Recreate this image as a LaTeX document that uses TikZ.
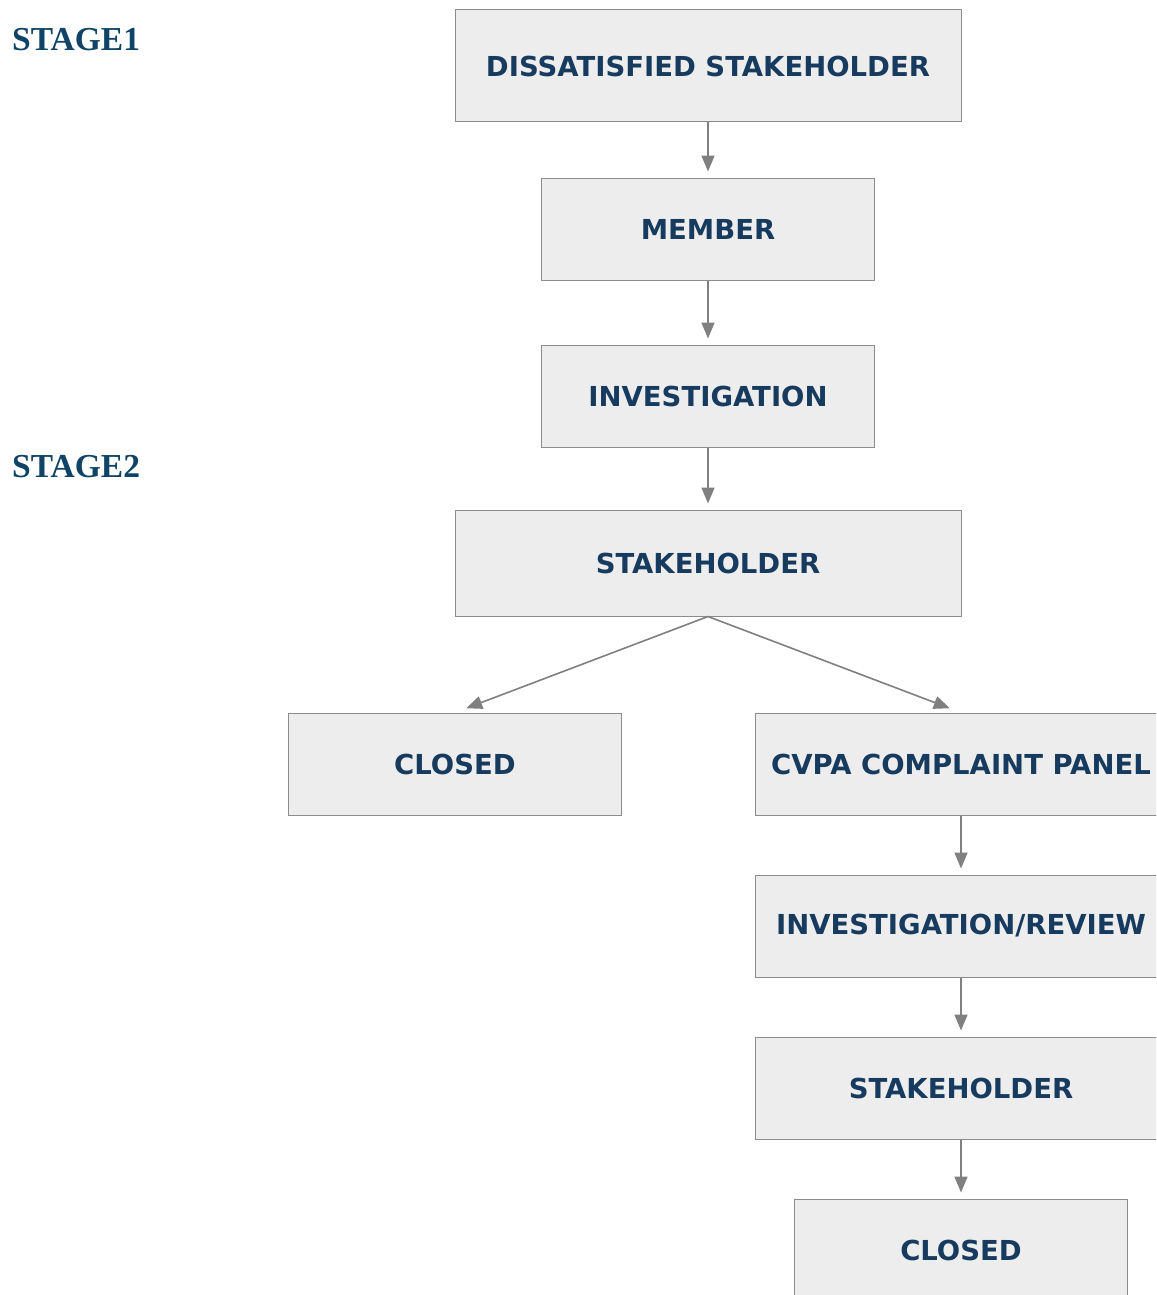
\documentclass[tikz,border=0pt]{standalone}
\usepackage{fontspec}
\setmainfont{Liberation Serif}
\newfontfamily\boxfont{DejaVu Sans}
\usetikzlibrary{arrows.meta}
\definecolor{boxfill}{HTML}{EDEDED}
\definecolor{boxline}{HTML}{8C8C8C}
\definecolor{boxtext}{HTML}{173B5E}
\definecolor{stagetext}{HTML}{0F4466}
\definecolor{arrowgray}{HTML}{808080}
\begin{document}
\begin{tikzpicture}[x=1pt,y=-1pt,
    box/.style={draw=boxline,fill=boxfill,line width=1pt,inner sep=0pt,
      minimum height=102pt,text=boxtext,
      font=\boxfont\bfseries\fontsize{27.5}{31}\selectfont},
    stage/.style={anchor=west,inner sep=0pt,text=stagetext,
      font=\bfseries\fontsize{33.5}{36}\selectfont},
    flow/.style={draw=arrowgray,line width=1.6pt,
      -{Triangle[length=16pt,width=13pt]},shorten >=6pt}]
  \clip (0,0) rectangle (1156,1295);
  \fill[white] (0,0) rectangle (1156,1295);
  \node[stage] (s1) at (12,40) {STAGE1};
  \node[stage] (s2) at (12,467) {STAGE2};
  \node[box,minimum width=506pt,minimum height=112pt] (dissat) at (708,66) {DISSATISFIED STAKEHOLDER};
  \node[box,minimum width=333pt] (member) at (708,229) {MEMBER};
  \node[box,minimum width=333pt] (invest) at (708,396) {INVESTIGATION};
  \node[box,minimum width=506pt,minimum height=106pt] (stake) at (708,563) {STAKEHOLDER};
  \node[box,minimum width=333pt] (closedA) at (455,764) {CLOSED};
  \node[box,minimum width=412pt] (panel) at (961,764) {CVPA COMPLAINT PANEL};
  \node[box,minimum width=412pt] (review) at (961,926) {INVESTIGATION/REVIEW};
  \node[box,minimum width=412pt] (stakeB) at (961,1088) {STAKEHOLDER};
  \node[box,minimum width=333pt] (closedB) at (961,1250) {CLOSED};
  \draw[flow] (dissat) -- (member);
  \draw[flow] (member) -- (invest);
  \draw[flow] (invest) -- (stake);
  \draw[flow,shorten >=12pt] (stake.south) -- (closedA.north);
  \draw[flow,shorten >=12pt] (stake.south) -- (panel.north);
  \draw[flow] (panel) -- (review);
  \draw[flow] (review) -- (stakeB);
  \draw[flow] (stakeB) -- (closedB);
\end{tikzpicture}
\end{document}
